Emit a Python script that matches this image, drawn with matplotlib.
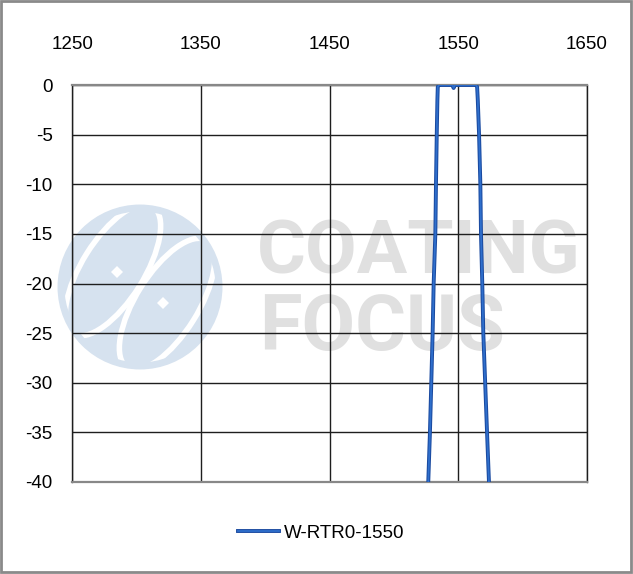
import matplotlib
matplotlib.use("Agg")
import matplotlib.pyplot as plt
import matplotlib.patheffects as pe
from matplotlib.patches import Circle, Rectangle, Polygon, Ellipse

plt.rcParams["axes.unicode_minus"] = False

# ---- data ----
wavelength = [1526.8, 1528.1, 1530.2, 1531.0, 1532.3, 1532.8, 1533.4, 1533.9, 1534.2, 1535.0,
              1540.0, 1545.5, 1546.5, 1547.5, 1555.0, 1564.0, 1564.8, 1565.3, 1566.3, 1567.3,
              1567.8, 1568.8, 1569.6, 1572.5, 1574.0]
transmission = [-40, -35, -25, -20, -15, -10, -5, -1.5, -0.2, 0.0,
                0.0, 0.0, -0.3, 0.0, 0.0, 0.0, -0.2, -1.5, -5, -10,
                -15, -20, -25, -35, -40]
series_name = "W-RTR0-1550"
x_ticks = [1250, 1350, 1450, 1550, 1650]
y_ticks = [0, -5, -10, -15, -20, -25, -30, -35, -40]

W, H = 633, 574
fig = plt.figure(figsize=(W / 100, H / 100), dpi=100)
fig.patch.set_facecolor("white")

font = ["Liberation Sans", "DejaVu Sans"]

def fx(px):
    return px / W

def fy(py):
    return 1 - py / H

# ---- watermark layer in pixel coordinates ----
bg = fig.add_axes([0, 0, 1, 1], zorder=-1)
bg.set_xlim(0, W)
bg.set_ylim(H, 0)
bg.axis("off")
blue = "#d6e2ef"
bg.add_patch(Circle((140, 287), 80, facecolor=blue, edgecolor="none"))
for (cx, cy) in [(113, 270), (167, 304)]:
    bg.add_patch(Ellipse((cx, cy), 150, 62, angle=-58, facecolor=blue,
                         edgecolor="white", linewidth=4))
bg.add_patch(Circle((140, 287), 79, facecolor="none", edgecolor=blue, linewidth=5))
for cx, cy in [(117, 272), (163, 303)]:
    d = 6
    bg.add_patch(Polygon([(cx, cy - d), (cx + d, cy), (cx, cy + d), (cx - d, cy)],
                         closed=True, facecolor="white", edgecolor="none"))
bg.text(257, 253, "COATING", fontsize=54, fontweight="bold",
        family=["Roboto", "DejaVu Sans"], color="#e0e0e0", ha="left", va="center")
bg.text(259, 329, "FOCUS", fontsize=56, fontweight="bold",
        family=["Roboto", "DejaVu Sans"], color="#e0e0e0", ha="left", va="center")

# outer border
fig.patches.append(Rectangle((fx(1), fy(572)), fx(630), 571 / H, transform=fig.transFigure,
                             fill=False, edgecolor="#8a8a8a", linewidth=2, zorder=10))

# ---- axes ----
ax = fig.add_axes([fx(72.3), fy(482), fx(586.7) - fx(72.3), fy(85) - fy(482)])
ax.set_facecolor("none")
ax.set_xlim(1250, 1650)
ax.set_ylim(-40, 0)
ax.set_xticks(x_ticks)
ax.set_yticks(y_ticks)
ax.xaxis.tick_top()
ax.tick_params(axis="x", length=0, pad=23, labelsize=13.5)
ax.tick_params(axis="y", length=0, pad=14, labelsize=13.5)
for lab in ax.get_xticklabels() + ax.get_yticklabels():
    lab.set_family(font)
ax.grid(True, color="#1e1e1e", linewidth=1.0, zorder=1)
ax.set_axisbelow(True)
for s in ["left", "right"]:
    ax.spines[s].set_color("#1e1e1e")
    ax.spines[s].set_linewidth(1.0)
for s in ["top", "bottom"]:
    ax.spines[s].set_color("#888888")
    ax.spines[s].set_linewidth(1.6)

line, = ax.plot(wavelength, transmission, color="#2f6fcc", linewidth=1.3, zorder=3,
                label=series_name, solid_joinstyle="round",
                path_effects=[pe.Stroke(linewidth=2.8, foreground="#1a4aa0"), pe.Normal()])

leg = fig.legend(handles=[line], loc="center", bbox_to_anchor=(fx(321), fy(533)),
                 frameon=False, prop={"family": font, "size": 13.5},
                 handlelength=2.2, handletextpad=0.25)

fig.savefig("out.png", dpi=100)
